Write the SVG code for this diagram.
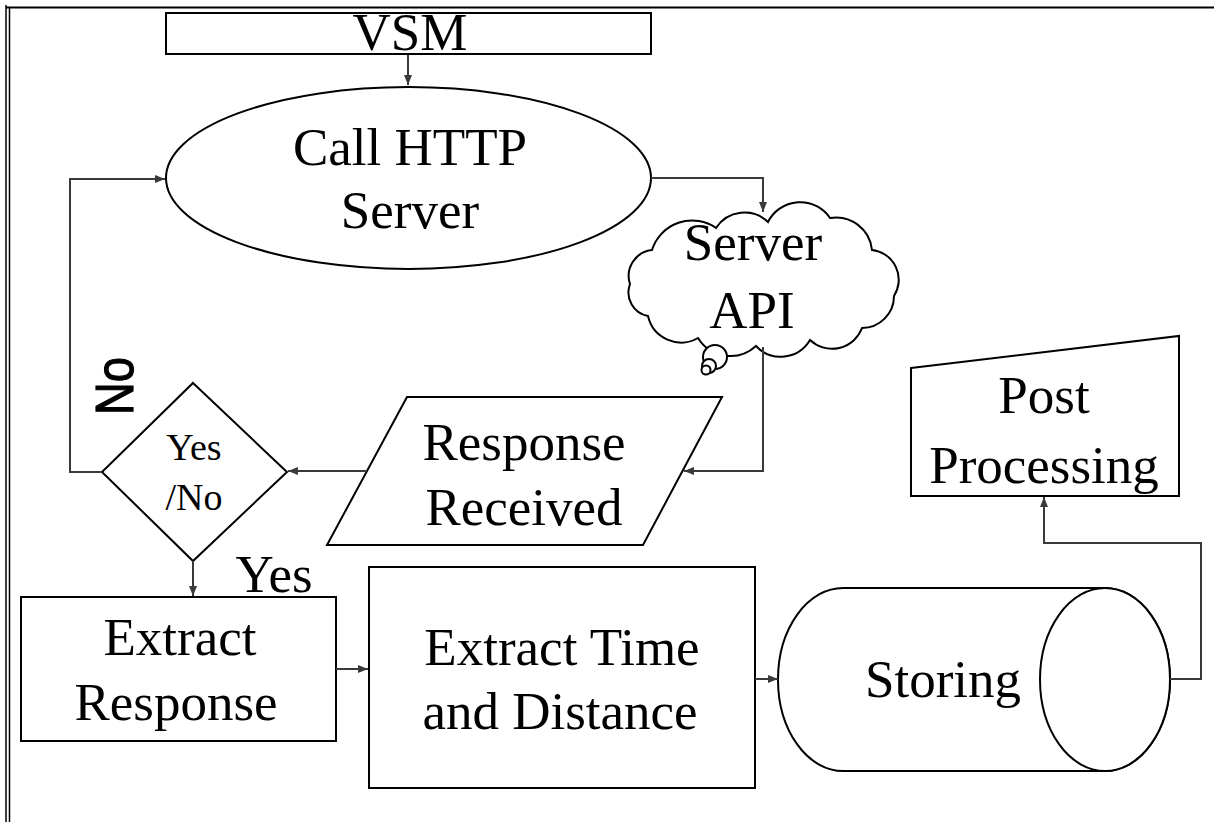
<svg xmlns="http://www.w3.org/2000/svg" width="1214" height="822" viewBox="0 0 1214 822">
<style>
.shape{fill:#fff;stroke:#000;stroke-width:2}
.conn{fill:none;stroke:#3a3a3a;stroke-width:2}
.lbl{font-family:"Liberation Serif","Times New Roman",serif;font-size:53px;fill:#000;text-anchor:middle}
.sm{font-size:38px}
.sans{font-family:"Liberation Sans",Arial,sans-serif}
</style>
<defs>
<marker id="arr" markerUnits="userSpaceOnUse" markerWidth="12" markerHeight="10" refX="10" refY="4" orient="auto">
<path d="M0,0 L10,4 L0,8 Z" fill="#3a3a3a"/>
</marker>
</defs>
<rect width="1214" height="822" fill="#fff"/>
<g id="border" stroke="#000" fill="none">
<line x1="6" y1="5" x2="6" y2="822" stroke-width="1.5"/>
<line x1="9.5" y1="8" x2="9.5" y2="822" stroke-width="1.5"/>
<line x1="6" y1="7.5" x2="1214" y2="7.5" stroke-width="2"/>
</g>
<g id="vsm">
<rect class="shape" x="166" y="13" width="485" height="41"/>
<text class="lbl" x="410" y="50" font-size="52">VSM</text>
</g>
<g id="call-http">
<ellipse class="shape" cx="408.5" cy="178" rx="242.5" ry="91"/>
<text class="lbl" x="410" y="165">Call HTTP</text>
<text class="lbl" x="410" y="228">Server</text>
</g>
<g id="server-api">
<path class="shape" d="M652,250 A42,42 0 0 1 716,228 A34,34 0 0 1 768,222 A36,36 0 0 1 830,218 A36,36 0 0 1 872,250 A30,30 0 0 1 894,296 A32,32 0 0 1 862,328 A32,32 0 0 1 810,340 A34,34 0 0 1 756,346 A38,38 0 0 1 698,338 A34,34 0 0 1 648,316 A24,24 0 0 1 630,284 A26,26 0 0 1 652,250 Z"/>
<circle class="shape" cx="715" cy="357" r="12"/>
<circle class="shape" cx="709" cy="366" r="7"/>
<circle class="shape" cx="706" cy="370" r="4.5"/>
<text class="lbl" x="753" y="260">Server</text>
<text class="lbl" x="752" y="328">API</text>
</g>
<g id="response-received">
<polygon class="shape" points="407,397 722,397 643,545 327,545"/>
<text class="lbl" x="524" y="460">Response</text>
<text class="lbl" x="524" y="525">Received</text>
</g>
<g id="decision">
<polygon class="shape" points="193,383 287,472 193,561 102,472"/>
<text class="lbl sm" x="194" y="460">Yes</text>
<text class="lbl sm" x="194" y="510">/No</text>
</g>
<g id="extract-response">
<rect class="shape" x="21" y="597" width="315" height="144"/>
<text class="lbl" x="180" y="655">Extract</text>
<text class="lbl" x="176" y="720">Response</text>
</g>
<g id="extract-time">
<rect class="shape" x="369" y="567" width="386" height="221"/>
<text class="lbl" x="562" y="665">Extract Time</text>
<text class="lbl" x="560" y="729">and Distance</text>
</g>
<g id="storing">
<path class="shape" d="M843,588 L1105,588 A65,91.5 0 0 1 1105,771 L843,771 A65,91.5 0 0 1 843,588 Z"/>
<ellipse class="shape" cx="1105" cy="679.5" rx="65" ry="91.5"/>
<text class="lbl" x="943" y="697">Storing</text>
</g>
<g id="post-processing">
<polygon class="shape" points="911,368 1179,336 1179,496 911,496"/>
<text class="lbl" x="1044" y="413">Post</text>
<text class="lbl" x="1044" y="483">Processing</text>
</g>
<g id="connectors">
<path class="conn" d="M408,55 V85" marker-end="url(#arr)"/>
<path class="conn" d="M651,178 H763 V212" marker-end="url(#arr)"/>
<path class="conn" d="M763,347 V471 H684" marker-end="url(#arr)"/>
<path class="conn" d="M367,471 H288" marker-end="url(#arr)"/>
<path class="conn" d="M102,472 H70 V179 H165" marker-end="url(#arr)"/>
<path class="conn" d="M193,561 V596" marker-end="url(#arr)"/>
<path class="conn" d="M336,669 H368" marker-end="url(#arr)"/>
<path class="conn" d="M755,679 H778" marker-end="url(#arr)"/>
<path class="conn" d="M1170,679 H1201 V543 H1044 V497" marker-end="url(#arr)"/>
</g>
<g id="labels">
<text class="lbl" x="274" y="592">Yes</text>
<text class="sans" font-size="54" text-anchor="middle" stroke="#000" stroke-width="1.2" textLength="58" lengthAdjust="spacingAndGlyphs" transform="translate(133,386) rotate(-90)">No</text>
</g>
</svg>
